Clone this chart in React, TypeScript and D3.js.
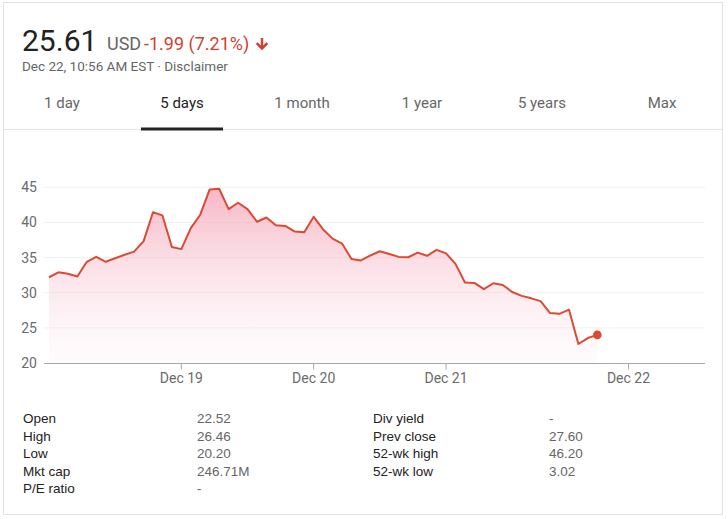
import React from "react";
import * as d3 from "d3";

// ---- data ----
const prices: number[] = [
  32.2, 32.9, 32.7, 32.3, 34.4, 35.1, 34.4, 34.9, 35.4, 35.85, 37.3, 41.45, 41.0, 36.5,
  36.2, 39.2, 41.1, 44.7, 44.8, 41.9, 42.8, 41.9, 40.1, 40.7, 39.6, 39.5, 38.7, 38.6,
  40.8, 39.0, 37.7, 37.0, 34.8, 34.6, 35.3, 35.9, 35.5, 35.1, 35.05, 35.7, 35.25, 36.1,
  35.6, 34.1, 31.45, 31.4, 30.5, 31.35, 31.1, 30.1, 29.55, 29.2, 28.8, 27.1, 27.0, 27.6,
  22.7, 23.55, 24.0,
];
const yTicks: number[] = [20, 25, 30, 35, 40, 45];
const xTickLabels: string[] = ["Dec 19", "Dec 20", "Dec 21", "Dec 22"];
const xTickIndex: number[] = [14, 28, 42, 61.3];
const tabs: string[] = ["1 day", "5 days", "1 month", "1 year", "5 years", "Max"];
const selectedTab = "5 days";
const leftLabels: string[] = ["Open", "High", "Low", "Mkt cap", "P/E ratio"];
const leftValues: string[] = ["22.52", "26.46", "20.20", "246.71M", "-"];
const rightLabels: string[] = ["Div yield", "Prev close", "52-wk high", "52-wk low"];
const rightValues: string[] = ["-", "27.60", "46.20", "3.02"];
const price = "25.61";
const currency = "USD";
const change = "-1.99 (7.21%)";
const stamp = "Dec 22, 10:56 AM EST · Disclaimer";

const W = 728;
const H = 519;
const RED = "#dc4a32";
const ROBOTO = "Roboto, 'Noto Sans', sans-serif";
const ARIAL = "'Liberation Sans', Arial, sans-serif";

export default function App() {
  const x = d3.scaleLinear().domain([0, prices.length - 1]).range([49, 597.3]);
  const y = d3.scaleLinear().domain([20, 45]).range([363, 187.3]);
  const axisL = 44;
  const axisR = 705;

  const line = d3
    .line<number>()
    .x((_, i) => x(i))
    .y((d) => y(d));
  const area = d3
    .area<number>()
    .x((_, i) => x(i))
    .y0(y(20))
    .y1((d) => y(d));

  const last = prices.length - 1;

  return (
    <svg
      width={W}
      height={H}
      style={{ position: "absolute", left: 0, top: 0, background: "#fff" }}
    >
      <defs>
        <linearGradient id="fillGrad" gradientUnits="userSpaceOnUse" x1="0" y1={y(45)} x2="0" y2={y(20)}>
          <stop offset="0" stopColor="#f08aa3" stopOpacity="0.62" />
          <stop offset="1" stopColor="#fbe3ea" stopOpacity="0.12" />
        </linearGradient>
      </defs>
      <rect x={0} y={0} width={W} height={H} fill="#fff" />
      <rect x={3.5} y={2.5} width={719} height={512} fill="#fff" stroke="#e2e2e2" />

      {/* header */}
      <text x={22} y={51} fontFamily={ROBOTO} fontSize={30} fill="#222">
        {price}
      </text>
      <text x={107} y={50} fontFamily={ROBOTO} fontSize={18} fill="#666">
        {currency}
      </text>
      <text x={144} y={50} fontFamily={ROBOTO} fontSize={18} fill="#d23f31">
        {change}
      </text>
      <path
        d="M260.8,38 L263.2,38 L263.2,45.5 L266.5,42.2 L268.2,44 L262,50.2 L255.8,44 L257.5,42.2 L260.8,45.5 Z"
        fill="#d23f31"
      />
      <text x={22} y={70.5} fontFamily={ROBOTO} fontSize={13.5} fill="#666">
        {stamp}
      </text>

      {/* tabs */}
      {tabs.map((t, i) => (
        <text
          key={t}
          x={62 + i * 120}
          y={108}
          textAnchor="middle"
          fontFamily={ROBOTO}
          fontSize={15}
          fill={t === selectedTab ? "#222" : "#666"}
        >
          {t}
        </text>
      ))}
      <line x1={3.5} x2={722.5} y1={129.5} y2={129.5} stroke="#e4e4e4" strokeWidth={1} />
      <rect x={141} y={127.5} width={82} height={3} fill="#222" />

      {/* gridlines */}
      {yTicks.slice(1).map((t) => (
        <line key={t} x1={axisL} x2={axisR} y1={y(t)} y2={y(t)} stroke="#f1f1f1" strokeWidth={1} />
      ))}
      {yTicks.map((t) => (
        <text
          key={"l" + t}
          x={37}
          y={y(t) + 5}
          textAnchor="end"
          fontFamily={ROBOTO}
          fontSize={14}
          fill="#6b6b6b"
        >
          {t}
        </text>
      ))}

      {/* area and line */}
      <path d={area(prices) || ""} fill="url(#fillGrad)" />
      <path d={line(prices) || ""} fill="none" stroke={RED} strokeWidth={2} strokeLinejoin="round" />
      <circle cx={x(last)} cy={y(prices[last])} r={4.3} fill={RED} />

      {/* x axis */}
      <line x1={axisL} x2={axisR} y1={363.5} y2={363.5} stroke="#a8a8a8" strokeWidth={1} />
      {xTickIndex.map((ti, k) => (
        <g key={xTickLabels[k]}>
          <line x1={x(ti)} x2={x(ti)} y1={363.5} y2={369.5} stroke="#a8a8a8" strokeWidth={1} />
          <text
            x={x(ti)}
            y={382.5}
            textAnchor="middle"
            fontFamily={ROBOTO}
            fontSize={14}
            fill="#6b6b6b"
          >
            {xTickLabels[k]}
          </text>
        </g>
      ))}

      {/* stats table */}
      {leftLabels.map((l, i) => (
        <g key={l}>
          <text x={23} y={423 + i * 17.6} fontFamily={ARIAL} fontSize={13.5} fill="#222">
            {l}
          </text>
          <text x={197} y={423 + i * 17.6} fontFamily={ARIAL} fontSize={13.5} fill="#666">
            {leftValues[i]}
          </text>
        </g>
      ))}
      {rightLabels.map((l, i) => (
        <g key={l}>
          <text x={373} y={423 + i * 17.6} fontFamily={ARIAL} fontSize={13.5} fill="#222">
            {l}
          </text>
          <text x={549} y={423 + i * 17.6} fontFamily={ARIAL} fontSize={13.5} fill="#666">
            {rightValues[i]}
          </text>
        </g>
      ))}
    </svg>
  );
}
